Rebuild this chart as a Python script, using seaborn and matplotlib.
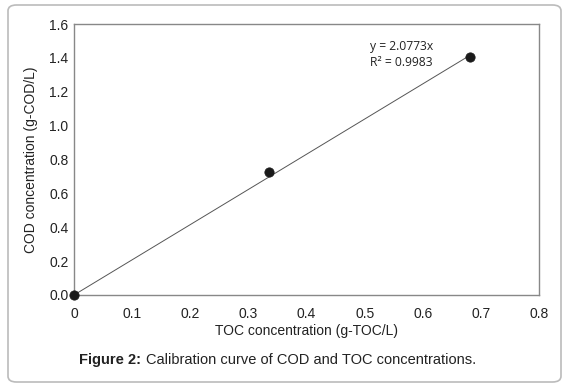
import matplotlib
matplotlib.use("Agg")
import matplotlib.pyplot as plt
from matplotlib.patches import FancyBboxPatch
import numpy as np
import pandas as pd
import seaborn as sns

toc = [0.0, 0.336, 0.682]
cod = [0.0, 0.729, 1.404]
slope = 2.0773
r2 = 0.9983
x_ticks = [0, 0.1, 0.2, 0.3, 0.4, 0.5, 0.6, 0.7, 0.8]
x_labels = ["0", "0.1", "0.2", "0.3", "0.4", "0.5", "0.6", "0.7", "0.8"]
y_ticks = [0.0, 0.2, 0.4, 0.6, 0.8, 1.0, 1.2, 1.4, 1.6]

sns.set_theme(style="white")
plt.rcParams['font.family'] = ['Liberation Sans', 'DejaVu Sans']

W, H = 567, 387
fig = plt.figure(figsize=(W / 100, H / 100), dpi=100)
ax = fig.add_axes([74 / W, 1 - 295 / H, (539 - 74) / W, (295 - 24) / H])

df = pd.DataFrame({"TOC": toc, "COD": cod})
fit_x = np.array([0.0, max(toc)])
fit = pd.DataFrame({"TOC": fit_x, "COD": slope * fit_x})
sns.lineplot(data=fit, x="TOC", y="COD", ax=ax, color="#555555", lw=0.7, zorder=2)
sns.scatterplot(data=df, x="TOC", y="COD", ax=ax, color="#1a1a1a", s=45,
                edgecolor="#1a1a1a", zorder=3, clip_on=False)

ax.set_xlim(0, 0.8)
ax.set_ylim(0, 1.6)
ax.set_xticks(x_ticks)
ax.set_xticklabels(x_labels)
ax.set_yticks(y_ticks)
ax.set_yticklabels([f"{v:.1f}" for v in y_ticks])
ax.tick_params(axis="both", length=0, labelsize=10, colors="#222222")
ax.tick_params(axis="x", pad=8.5)
ax.tick_params(axis="y", pad=4)
for s in ax.spines.values():
    s.set_color("#888888")
    s.set_linewidth(1.0)
ax.set_xlabel("TOC concentration (g-TOC/L)", fontsize=10, color="#222222", labelpad=2)
ax.set_ylabel("COD concentration (g-COD/L)", fontsize=10, color="#222222", labelpad=8)

ax.text(0.509, 1.47, f"y = {slope}x", fontsize=8.7, family=["Open Sans", "DejaVu Sans"],
        color="#222222", va="center")
ax.text(0.509, 1.375, f"R² = {r2}", fontsize=8.7, family=["Open Sans", "DejaVu Sans"],
        color="#222222", va="center")

fig.text(79 / W, 1 - 360 / H, "Figure 2:", fontsize=10.5, fontweight="bold",
         color="#222222", va="center")
fig.text(146 / W, 1 - 360 / H, "Calibration curve of COD and TOC concentrations.",
         fontsize=10.5, color="#222222", va="center")

box = FancyBboxPatch((8 / W, 1 - 382 / H), (561 - 8) / W, (382 - 5) / H,
                     boxstyle="round,pad=0,rounding_size=0.015",
                     transform=fig.transFigure, fill=False,
                     edgecolor="#bbbbbb", linewidth=1.2)
fig.patches.append(box)

fig.savefig("out.png", dpi=100)
